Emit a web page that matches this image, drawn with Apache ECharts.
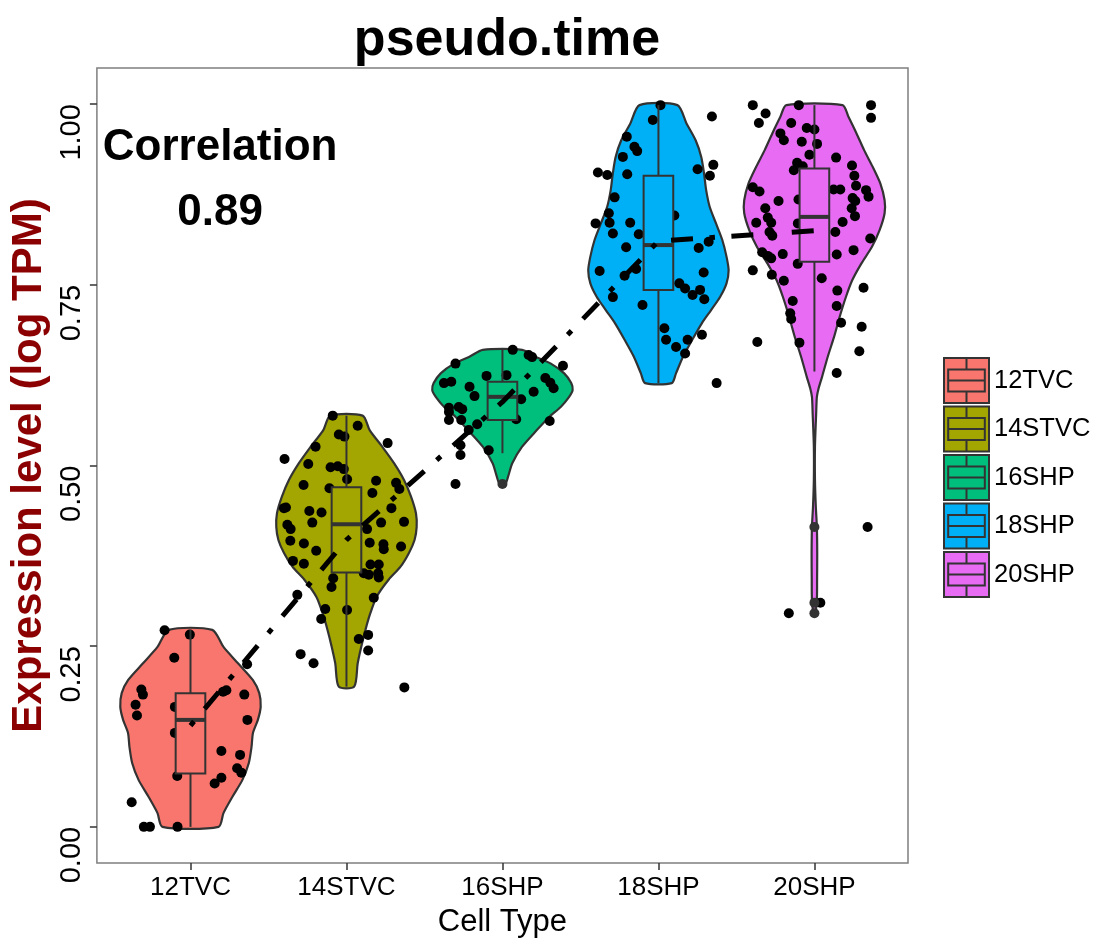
<!DOCTYPE html>
<html>
<head>
<meta charset="utf-8">
<script src="https://cdn.jsdelivr.net/npm/echarts@6/dist/echarts.min.js"></script>
<style>html,body{margin:0;padding:0;background:#fff;}#chart{width:1098px;height:943px;}</style>
</head>
<body>
<div id="chart"></div>
<script>
const categories = ['12TVC', '14STVC', '16SHP', '18SHP', '20SHP'];
const fillColors = ['#F8766D', '#A3A500', '#00BF7D', '#00B0F6', '#E76BF3'];
const yTicks = [0, 0.25, 0.5, 0.75, 1];
const correlationLabel = 'Correlation';
const correlationValue = '0.89';

// group means (dot-dash line)
const groupMeans = [0.140, 0.397, 0.588, 0.8105, 0.825];

// box stats: [lowWhisker, Q1, median, Q3, highWhisker]
const box12TVC = [0.0, 0.074, 0.148, 0.185, 0.2725];
const box14STVC = [0.194, 0.352, 0.4187, 0.470, 0.569];
const box16SHP = [0.517, 0.563, 0.595, 0.616, 0.660];
const box18SHP = [0.614, 0.743, 0.805, 0.901, 0.9986];
const box20SHP = [0.630, 0.782, 0.844, 0.911, 0.9986];

// violin density profiles: [value, relative width]
const violin12TVC = [[0.0,0.40],[0.019,0.47],[0.042,0.60],[0.065,0.74],[0.088,0.83],[0.111,0.87],[0.130,0.89],[0.148,0.96],[0.166,1.0],[0.185,0.98],[0.203,0.89],[0.226,0.68],[0.249,0.47],[0.2725,0.31]];
const violin14STVC = [[0.194,0.11],[0.2264,0.16],[0.249,0.21],[0.2725,0.27],[0.2956,0.34],[0.3185,0.43],[0.342,0.60],[0.360,0.77],[0.379,0.89],[0.397,0.97],[0.415,1.0],[0.434,0.99],[0.457,0.92],[0.480,0.82],[0.503,0.68],[0.526,0.51],[0.549,0.33],[0.569,0.23]];
const violin16SHP = [[0.4744,0.04],[0.4845,0.08],[0.503,0.14],[0.526,0.28],[0.549,0.49],[0.5675,0.67],[0.581,0.83],[0.595,0.95],[0.6044,1.0],[0.614,0.98],[0.6275,0.88],[0.641,0.69],[0.6505,0.47],[0.660,0.28]];
const violin18SHP = [[0.614,0.19],[0.6275,0.25],[0.6505,0.35],[0.6736,0.48],[0.697,0.62],[0.715,0.75],[0.7335,0.88],[0.752,0.97],[0.770,1.0],[0.789,0.97],[0.812,0.91],[0.835,0.82],[0.858,0.73],[0.881,0.68],[0.904,0.65],[0.927,0.61],[0.950,0.53],[0.9733,0.40],[0.9986,0.27]];
const violin20SHP = [[0.2956,0.012],[0.314,0.035],[0.3416,0.038],[0.3786,0.04],[0.415,0.035],[0.443,0.02],[0.480,0.008],[0.526,0.008],[0.572,0.025],[0.595,0.035],[0.607,0.06],[0.623,0.11],[0.6505,0.19],[0.678,0.28],[0.7058,0.36],[0.7335,0.45],[0.7566,0.54],[0.7797,0.67],[0.8026,0.82],[0.826,0.93],[0.849,1.0],[0.867,1.0],[0.890,0.94],[0.9133,0.83],[0.936,0.71],[0.9594,0.60],[0.9824,0.485],[0.9986,0.40]];

// jittered points: [x offset from group centre, value]
const points12TVC = [[-0.166,0.272],[-0.004,0.266],[-0.104,0.234],[-0.315,0.190],[-0.305,0.183],[-0.352,0.169],[-0.343,0.154],[0.209,0.187],[0.230,0.189],[0.345,0.183],[0.365,0.148],[0.198,0.105],[0.318,0.0996],[0.299,0.081],[0.326,0.075],[0.198,0.068],[0.155,0.060],[-0.085,0.0705],[-0.377,0.034],[-0.299,0.0],[-0.260,0.0],[-0.083,0.0],[0.363,0.225],[-0.100,0.166],[-0.100,0.130]];
const points14STVC = [[-0.088,0.569],[0.072,0.555],[-0.049,0.543],[-0.013,0.540],[0.264,0.531],[-0.198,0.526],[-0.397,0.509],[-0.245,0.502],[-0.102,0.4975],[-0.056,0.499],[-0.017,0.495],[0.004,0.481],[0.190,0.479],[0.318,0.476],[0.339,0.4675],[-0.275,0.473],[-0.109,0.4685],[0.166,0.462],[-0.401,0.441],[-0.388,0.442],[-0.238,0.437],[-0.160,0.435],[0.288,0.441],[0.222,0.421],[0.369,0.422],[-0.219,0.421],[-0.379,0.418],[-0.358,0.412],[0.132,0.412],[-0.360,0.396],[-0.273,0.392],[0.149,0.393],[0.237,0.391],[0.239,0.384],[0.350,0.388],[-0.194,0.382],[-0.343,0.368],[-0.273,0.364],[0.154,0.363],[0.207,0.363],[0.111,0.351],[0.143,0.349],[0.203,0.351],[0.207,0.345],[-0.085,0.344],[-0.096,0.332],[0.175,0.317],[-0.315,0.321],[-0.136,0.3015],[0.004,0.300],[-0.162,0.2877],[0.079,0.260],[0.139,0.2656],[0.139,0.244],[-0.294,0.239],[-0.211,0.2264],[0.371,0.193]];
const points16SHP = [[-0.301,0.641],[0.066,0.660],[0.168,0.653],[0.190,0.650],[0.388,0.638],[-0.102,0.624],[0.026,0.625],[-0.375,0.614],[-0.328,0.616],[-0.211,0.609],[-0.179,0.596],[0.275,0.621],[0.307,0.6145],[0.328,0.607],[0.200,0.602],[0.120,0.5916],[-0.343,0.580],[-0.343,0.574],[-0.280,0.581],[-0.258,0.578],[-0.343,0.563],[-0.264,0.563],[-0.162,0.557],[-0.216,0.549],[0.088,0.564],[0.303,0.5615],[-0.269,0.528],[-0.269,0.5145],[-0.088,0.521],[-0.301,0.4744]];
const points18SHP = [[0.013,0.9986],[-0.036,0.978],[-0.203,0.955],[-0.154,0.941],[-0.136,0.935],[-0.228,0.927],[-0.388,0.9055],[-0.328,0.902],[-0.200,0.903],[0.251,0.910],[0.352,0.916],[0.330,0.901],[0.343,0.983],[-0.281,0.871],[-0.318,0.849],[-0.313,0.836],[-0.403,0.835],[-0.181,0.836],[-0.292,0.821],[-0.126,0.820],[0.102,0.846],[-0.207,0.802],[0.258,0.801],[0.322,0.8095],[-0.377,0.769],[-0.217,0.7625],[-0.143,0.772],[0.290,0.767],[0.134,0.752],[0.171,0.745],[0.219,0.736],[0.267,0.743],[0.294,0.730],[-0.292,0.733],[-0.102,0.722],[0.038,0.690],[0.049,0.674],[0.113,0.664],[0.187,0.674],[0.279,0.681],[0.171,0.655],[0.373,0.614]];
const points20SHP = [[-0.395,0.9986],[-0.313,0.987],[-0.356,0.974],[-0.100,0.9986],[0.363,0.9986],[0.363,0.981],[-0.149,0.974],[-0.049,0.967],[0.0,0.965],[-0.218,0.9595],[-0.196,0.950],[-0.081,0.948],[0.017,0.945],[-0.032,0.930],[0.139,0.926],[-0.111,0.919],[-0.132,0.9085],[-0.075,0.914],[0.241,0.915],[0.256,0.901],[0.267,0.887],[-0.395,0.885],[-0.352,0.879],[0.123,0.882],[0.166,0.882],[0.331,0.881],[0.347,0.872],[0.245,0.870],[0.262,0.866],[-0.230,0.866],[-0.102,0.868],[-0.315,0.856],[0.239,0.856],[0.260,0.845],[-0.299,0.843],[-0.277,0.836],[-0.373,0.836],[0.181,0.837],[-0.106,0.835],[-0.288,0.823],[-0.270,0.818],[0.134,0.823],[0.358,0.814],[-0.335,0.795],[-0.299,0.790],[-0.277,0.7866],[-0.203,0.7925],[0.143,0.792],[0.251,0.798],[-0.107,0.779],[-0.395,0.770],[-0.273,0.764],[-0.196,0.7556],[0.047,0.759],[0.147,0.742],[0.315,0.746],[-0.139,0.7275],[0.143,0.7206],[-0.155,0.7105],[-0.149,0.7026],[0.171,0.6975],[0.303,0.692],[-0.366,0.671],[-0.096,0.670],[0.288,0.658],[0.143,0.628],[0.341,0.415],[0.038,0.310],[-0.164,0.2956]];

// boxplot outliers: [group index, value]
const outliers = [[2,0.4744],[4,0.415],[4,0.310],[4,0.2956]];

const violins = [violin12TVC, violin14STVC, violin16SHP, violin18SHP, violin20SHP];
const boxes = [box12TVC, box14STVC, box16SHP, box18SHP, box20SHP];
const pointGroups = [points12TVC, points14STVC, points16SHP, points18SHP, points20SHP];

const VIOLIN_HALF = 0.45;
const BOX_HALF = 0.095;
const EDGE = '#333333';
const FONT = 'Liberation Sans, Arial, sans-serif';

const chart = echarts.init(document.getElementById('chart'), null, {renderer: 'canvas'});

const series = [];
violins.forEach((prof, gi) => {
  series.push({
    name: categories[gi],
    type: 'custom',
    z: 1,
    silent: true,
    itemStyle: {color: fillColors[gi]},
    data: [[gi]],
    encode: {x: 0},
    renderItem: (params, api) => {
      const g = api.value(0);
      const right = prof.map(p => api.coord([g + p[1] * VIOLIN_HALF, p[0]]));
      const left = prof.slice().reverse().map(p => api.coord([g - p[1] * VIOLIN_HALF, p[0]]));
      return {
        type: 'polygon',
        shape: {points: right.concat(left), smooth: 0.25},
        style: {fill: fillColors[g], stroke: EDGE, lineWidth: 2.2}
      };
    }
  });
});

const pointData = [];
pointGroups.forEach((pts, gi) => pts.forEach(p => pointData.push([gi + p[0], p[1]])));
series.push({
  name: 'points', type: 'scatter', z: 2, silent: true,
  symbol: 'circle', symbolSize: 10,
  itemStyle: {color: '#000000', opacity: 1},
  data: pointData
});

series.push({
  name: 'boxes', type: 'custom', z: 3, silent: true,
  data: boxes.map((b, gi) => [gi].concat(b)),
  encode: {x: 0, y: [1, 5]},
  renderItem: (params, api) => {
    const g = api.value(0);
    const lo = api.value(1), q1 = api.value(2), med = api.value(3), q3 = api.value(4), hi = api.value(5);
    const pLo = api.coord([g, lo]), pHi = api.coord([g, hi]);
    const tl = api.coord([g - BOX_HALF, q3]), br = api.coord([g + BOX_HALF, q1]);
    const ml = api.coord([g - BOX_HALF, med]), mr = api.coord([g + BOX_HALF, med]);
    return {type: 'group', children: [
      {type: 'line', shape: {x1: pLo[0], y1: pLo[1], x2: pLo[0], y2: br[1]}, style: {stroke: EDGE, lineWidth: 2}},
      {type: 'line', shape: {x1: pHi[0], y1: pHi[1], x2: pHi[0], y2: tl[1]}, style: {stroke: EDGE, lineWidth: 2}},
      {type: 'rect', shape: {x: tl[0], y: tl[1], width: br[0] - tl[0], height: br[1] - tl[1]}, style: {fill: fillColors[g], stroke: EDGE, lineWidth: 2}},
      {type: 'line', shape: {x1: ml[0], y1: ml[1], x2: mr[0], y2: mr[1]}, style: {stroke: EDGE, lineWidth: 4}}
    ]};
  }
});

series.push({
  name: 'outliers', type: 'scatter', z: 3, silent: true,
  symbol: 'circle', symbolSize: 10,
  itemStyle: {color: EDGE, opacity: 1},
  data: outliers
});

series.push({
  name: 'means', type: 'line', z: 4, silent: true,
  symbol: 'none',
  lineStyle: {color: '#000', width: 5, type: [5.5, 16.5, 22, 16.5], cap: 'butt', opacity: 1},
  data: groupMeans.map((m, gi) => [gi, m])
});

series.push({
  name: 'annotation', type: 'scatter', z: 5, silent: true,
  symbolSize: 0,
  itemStyle: {opacity: 1},
  label: {show: true, position: 'inside', formatter: '{b}', fontSize: 44, fontWeight: 'bold', color: '#000000', opacity: 1, fontFamily: FONT},
  data: [{name: correlationLabel, value: [0.19, 0.94]}, {name: correlationValue, value: [0.19, 0.85]}]
});

const legendIcon = 'path://M1,1 H44 V44 H1 Z M5,12 H40 V33 H5 Z M5,22.5 H40 M22.5,1 V12 M22.5,33 V44';

const option = {
  animation: false,
  backgroundColor: '#ffffff',
  textStyle: {fontFamily: FONT},
  title: {
    text: 'pseudo.time',
    left: 502, top: 10, textAlign: 'center',
    textStyle: {fontSize: 52, fontWeight: 'bold', color: '#000', fontFamily: FONT}
  },
  grid: {left: 95, top: 68, right: 190, bottom: 80, show: true, borderColor: '#7f7f7f', borderWidth: 1.5, backgroundColor: 'transparent', containLabel: false},
  legend: {
    data: categories,
    orient: 'vertical',
    left: 943, top: 357,
    itemWidth: 45, itemHeight: 45, itemGap: 1.5,
    padding: 0,
    icon: legendIcon,
    itemStyle: {borderColor: EDGE, borderWidth: 2},
    textStyle: {fontSize: 25.5, color: '#000', fontFamily: FONT},
    selectedMode: false
  },
  xAxis: {
    type: 'value', min: -0.6, max: 4.6,
    name: 'Cell Type', nameLocation: 'middle', nameGap: 44,
    nameTextStyle: {fontSize: 31, color: '#000', fontFamily: FONT},
    axisLine: {show: false, onZero: false},
    axisTick: {show: true, length: 7, inside: false, customValues: [0, 1, 2, 3, 4], lineStyle: {color: EDGE, width: 1.5}},
    axisLabel: {customValues: [0, 1, 2, 3, 4], formatter: v => categories[Math.round(v)], fontSize: 26, color: '#000', margin: 12},
    splitLine: {show: false}
  },
  yAxis: {
    type: 'value', min: -0.05, max: 1.05,
    name: 'Expression level (log TPM)', nameLocation: 'middle', nameGap: 44, nameRotate: 90,
    nameTextStyle: {fontSize: 42, fontWeight: 'bold', color: '#8B0000', fontFamily: FONT},
    axisLine: {show: false, onZero: false},
    axisTick: {show: true, length: 7, inside: false, customValues: yTicks, lineStyle: {color: EDGE, width: 1.5}},
    axisLabel: {customValues: yTicks, formatter: v => v.toFixed(2), fontSize: 29, color: '#000', rotate: 90, align: 'right', verticalAlign: 'bottom', margin: 10},
    splitLine: {show: false}
  },
  series: series
};
chart.setOption(option);
</script>
</body>
</html>
